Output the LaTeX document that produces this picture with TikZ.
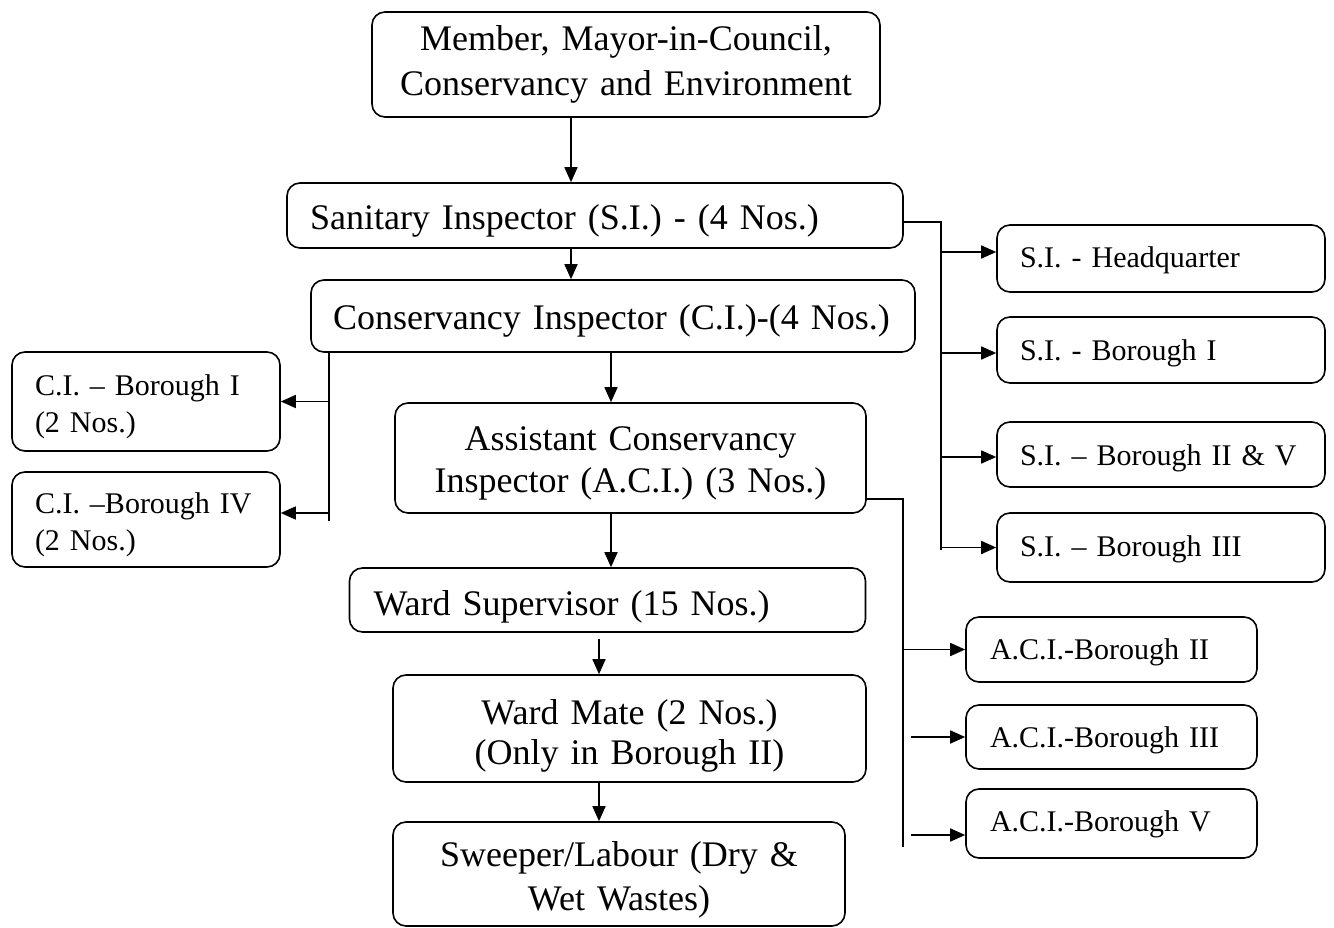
\documentclass[tikz,border=0pt]{standalone}
\usepackage{fontspec}
\setmainfont{Liberation Serif}
\usetikzlibrary{arrows.meta}
\newcommand\fbig{\fontsize{36}{43}\selectfont}
\newcommand\fsmall{\fontsize{30}{37}\selectfont}

\begin{document}
\begin{tikzpicture}[x=1pt,y=-1pt,
  box/.style={draw, line width=1.6pt, rounded corners=13pt, inner ysep=0pt},
  big/.style={box, font=\fbig},
  small/.style={box, font=\fsmall},
  % baseline placement of the first text line inside a box
  tb/.style 2 args={text height=#1, text depth=#2},
  arr/.style={line width=1.6pt, -{Triangle[length=15pt,width=13pt]}},
  trunk/.style={line width=1.6pt},
]
\fill[white] (0,0) rectangle (1334,928);
\useasboundingbox (0,0) rectangle (1334,928);

% main chain
\node[big, font=\fontsize{36}{45}\selectfont, tb={0pt}{28pt}, inner xsep=20pt, text width=468pt, align=center, minimum height=105pt] (top) at (626,64.5)
  {Member, Mayor-in-Council,\\Conservancy and Environment};
\node[big, tb={29pt}{0pt}, inner xsep=23pt, text width=570pt, align=left, minimum height=65pt] (si) at (595,215.5)
  {Sanitary Inspector (S.I.) - (4 Nos.)};
\node[big, tb={28pt}{0pt}, inner xsep=22pt, text width=560pt, align=left, minimum height=72pt] (ci) at (613,316)
  {Conservancy Inspector (C.I.)-(4 Nos.)};
\node[big, font=\fontsize{36}{42}\selectfont, tb={0pt}{15pt}, inner xsep=20pt, text width=431pt, align=center, minimum height=110pt] (aci) at (630.5,458)
  {Assistant Conservancy\\Inspector (A.C.I.) (3 Nos.)};
\node[big, tb={30pt}{0pt}, inner xsep=24pt, text width=468pt, align=left, minimum height=64pt] (ws) at (607.5,600)
  {Ward Supervisor (15 Nos.)};
\node[big, font=\fontsize{36}{40}\selectfont, tb={0pt}{9pt}, inner xsep=20pt, text width=433pt, align=center, minimum height=107pt] (wm) at (629.5,728.5)
  {Ward Mate (2 Nos.)\\(Only in Borough II)};
\node[big, font=\fontsize{36}{44}\selectfont, tb={0pt}{15pt}, inner xsep=20pt, text width=412pt, align=center, minimum height=104pt] (sw) at (619,874)
  {Sweeper/Labour (Dry \&\\Wet Wastes)};

% conservancy inspector branches
\tikzset{cibox/.style={small, tb={0pt}{13pt}, inner xsep=23pt, text width=222pt, align=left}}
\node[cibox, minimum height=99pt] (cib1) at (146,401.5)
  {C.I. \textendash{} Borough I\\(2 Nos.)};
\node[cibox, minimum height=95pt] (cib4) at (146,519.5)
  {\mbox{C.I. \textendash Borough IV}\\(2 Nos.)};

% sanitary inspector branches
\tikzset{sibox/.style={small, inner xsep=23pt, text width=282pt, align=left}}
\node[sibox, tb={19pt}{0pt}, minimum height=67pt] (hq) at (1161,258.5) {S.I. - Headquarter};
\node[sibox, tb={20pt}{0pt}, minimum height=66pt] (sb1) at (1161,350) {S.I. - Borough I};
\node[sibox, tb={21pt}{0pt}, minimum height=65pt] (sb25) at (1161,454.5) {\mbox{S.I. \textendash{} Borough II \& V}};
\node[sibox, tb={18pt}{0pt}, minimum height=69pt] (sb3) at (1161,547.5) {S.I. \textendash{} Borough III};

% assistant conservancy inspector branches
\tikzset{acibox/.style={small, inner xsep=24pt, text width=243pt, align=left}}
\node[acibox, tb={20pt}{0pt}, minimum height=65pt] (aii) at (1111.5,649.5) {A.C.I.-Borough II};
\node[acibox, tb={20pt}{0pt}, minimum height=64pt] (aiii) at (1111.5,737) {A.C.I.-Borough III};
\node[acibox, tb={15pt}{0pt}, minimum height=69pt] (av) at (1111.5,823.5) {A.C.I.-Borough V};

% vertical chain arrows
\coordinate (x1) at (571,0);
\coordinate (x2) at (611,0);
\coordinate (x3) at (599,0);
\draw[arr] (top.south -| x1) -- (si.north -| x1);
\draw[arr] (si.south -| x1) -- (ci.north -| x1);
\draw[arr] (ci.south -| x2) -- (aci.north -| x2);
\draw[arr] (aci.south -| x2) -- (ws.north -| x2);
\draw[arr] ([yshift=-6pt]ws.south -| x3) -- (wm.north -| x3);
\draw[arr] (wm.south -| x3) -- (sw.north -| x3);

% C.I. trunk to the left
\coordinate (cit) at (329,521);
\draw[trunk] (ci.south -| cit) -- (cit);
\draw[arr] (cit |- cib1.east) -- (cib1.east);
\coordinate (c4) at ([yshift=6.5pt]cib4.east);
\draw[arr] (cit |- c4) -- (c4);

% S.I. trunk to the right
\coordinate (sio) at ([yshift=-6.5pt]si.east);
\coordinate (sit) at (941,550);
\draw[trunk] (sio) -| (sit);
\coordinate (s1) at ([yshift=6.5pt]hq.west);
\coordinate (s2) at ([yshift=-3pt]sb1.west);
\coordinate (s3) at ([yshift=-2.5pt]sb25.west);
\draw[arr] (sit |- s1) -- (s1);
\draw[arr] (sit |- s2) -- (s2);
\draw[arr] (sit |- s3) -- (s3);
\draw[arr] (sit |- sb3.west) -- (sb3.west);

% A.C.I. trunk to the right
\coordinate (aco) at ([yshift=-41pt]aci.east);
\coordinate (act) at (903,847);
\coordinate (acs) at (911,0);
\draw[trunk] (aco) -| (act);
\draw[arr] (act |- aii.west) -- (aii.west);
\draw[arr] (acs |- aiii.west) -- (aiii.west);
\coordinate (v5) at ([yshift=-11.5pt]av.west);
\draw[arr] (acs |- v5) -- (v5);
\end{tikzpicture}
\end{document}
